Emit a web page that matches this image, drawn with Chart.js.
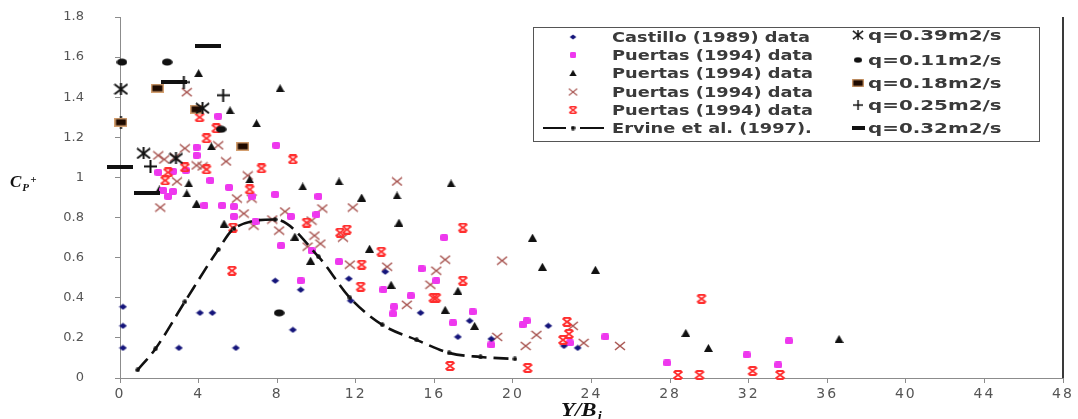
<!DOCTYPE html>
<html><head><meta charset="utf-8">
<script src="https://cdn.jsdelivr.net/npm/chart.js@4.4.1/dist/chart.umd.min.js"></script>
<style>html,body{margin:0;padding:0;background:#fff;} #wrap{width:1078px;height:419px;position:relative;}</style>
</head><body><div id="wrap"><canvas id="c"></canvas></div>
<script>
// ---------- data ----------
const xTickValues = [0,4,8,12,16,20,24,28,32,36,40,44,48];
const yTickValues = [0,0.2,0.4,0.6,0.8,1.0,1.2,1.4,1.6,1.8];

const seriesLabels = ['Castillo (1989) data','Puertas (1994) data','Puertas (1994) data','Puertas (1994) data','Puertas (1994) data','Ervine et al. (1997).',
  'q=0.39m2/s','q=0.11m2/s','q=0.18m2/s','q=0.25m2/s','q=0.32m2/s'];

const castilloX = [0.15,0.15,0.15,3.0,4.07,4.7,5.9,7.9,8.8,9.2,11.65,11.75,13.5,15.3,17.2,17.8,18.9,21.8,22.6,23.3];
const castilloY = [0.355,0.26,0.15,0.15,0.325,0.325,0.15,0.485,0.24,0.44,0.495,0.385,0.53,0.325,0.205,0.285,0.195,0.26,0.16,0.15];

const magentaX = [5.0,3.9,3.9,7.95,1.95,2.7,3.35,4.6,5.55,7.9,2.2,2.7,2.45,4.3,5.2,5.8,5.8,6.9,8.2,6.7,8.7,10.1,10.0,16.5,9.75,9.2,11.15,15.35,16.1,13.4,14.8,13.95,13.9,16.95,17.95,18.9,20.7,20.5,22.9,24.7,27.85,31.9,34.05,33.5];
const magentaY = [1.305,1.15,1.11,1.16,1.025,1.03,1.035,0.985,0.95,0.915,0.935,0.93,0.905,0.86,0.86,0.855,0.805,0.78,0.66,0.905,0.805,0.905,0.815,0.70,0.635,0.485,0.58,0.545,0.485,0.44,0.41,0.355,0.32,0.275,0.33,0.165,0.285,0.265,0.175,0.205,0.075,0.115,0.185,0.065];

const triangleX = [4.0,8.15,5.6,6.95,4.65,3.5,2.0,3.4,3.9,5.3,6.6,9.3,11.15,12.3,14.1,16.85,14.2,8.9,12.7,9.7,13.8,17.2,16.55,18.05,21.0,21.5,24.2,28.8,29.95,36.6];
const triangleY = [1.52,1.445,1.335,1.27,1.155,0.97,0.94,0.92,0.87,0.77,0.99,0.955,0.98,0.90,0.91,0.97,0.775,0.705,0.645,0.585,0.465,0.435,0.34,0.26,0.70,0.555,0.54,0.225,0.15,0.195];

const brownX = [3.4,3.3,5.0,1.95,2.25,2.8,5.4,3.9,4.2,2.9,6.5,5.95,6.7,2.05,6.3,6.8,7.75,8.1,8.4,14.1,10.3,11.85,9.75,9.9,10.2,9.55,11.35,16.55,11.7,13.6,16.1,15.8,14.6,19.2,19.45,21.2,20.65,23.05,23.6,25.45];
const brownY = [1.425,1.145,1.16,1.11,1.09,1.10,1.08,1.06,1.055,0.98,1.01,0.895,0.895,0.85,0.82,0.76,0.79,0.735,0.83,0.98,0.845,0.85,0.785,0.71,0.67,0.655,0.70,0.59,0.565,0.555,0.535,0.465,0.365,0.205,0.585,0.215,0.16,0.26,0.175,0.16];

const redX = [4.05,4.9,4.4,7.2,4.4,3.3,2.45,2.3,6.6,8.8,5.75,5.7,9.5,11.2,11.55,17.45,13.3,12.3,12.25,17.45,15.95,16.1,16.8,22.75,22.85,22.55,20.75,29.6,28.4,29.5,32.2,33.6];
const redY = [1.30,1.245,1.195,1.045,1.04,1.05,1.025,0.985,0.94,1.09,0.75,0.535,0.775,0.725,0.74,0.75,0.63,0.565,0.455,0.485,0.40,0.40,0.06,0.28,0.22,0.19,0.05,0.395,0.015,0.015,0.035,0.015];

const ervineX = [0.9,1.8,3.3,5.0,5.8,7.9,10.1,11.7,13.35,15.1,16.75,18.35,20.1];
const ervineY = [0.04,0.145,0.38,0.64,0.745,0.79,0.605,0.40,0.265,0.19,0.125,0.105,0.095];

const q039X = [0.05,4.2,1.2,2.85];
const q039Y = [1.44,1.345,1.12,1.095];
const q011X = [0.1,2.4,5.15,8.1];
const q011Y = [1.575,1.575,1.24,0.325];
const q018X = [0.05,1.9,3.9,6.25];
const q018Y = [1.275,1.445,1.34,1.155];
const q025X = [0.05,3.25,5.25,1.55];
const q025Y = [1.275,1.475,1.41,1.055];
const q032X = [4.5,0,1.35,2.75];
const q032Y = [1.655,1.05,0.92,1.475];

// ---------- markers ----------
function mk(w,h,fn){const c=document.createElement('canvas');c.width=w;c.height=h;const g=c.getContext('2d');fn(g,w,h);return c;}
const mDiamond = mk(9,7,g=>{g.fillStyle='#14147a';g.beginPath();g.moveTo(0.5,3.5);g.lineTo(4.5,0.5);g.lineTo(8.5,3.5);g.lineTo(4.5,6.5);g.closePath();g.fill();});
const mMagenta = mk(8,7,g=>{g.fillStyle='#ee38ee';g.beginPath();g.roundRect(0,0,8,7,2);g.fill();});
const mTri = mk(9,8,g=>{g.fillStyle='#111';g.beginPath();g.moveTo(4.5,0);g.lineTo(9,8);g.lineTo(0,8);g.closePath();g.fill();});
const mBrownX = mk(12,10,g=>{g.strokeStyle='#a85450';g.lineWidth=1.6;g.beginPath();g.moveTo(1,1);g.lineTo(11,9);g.moveTo(11,1);g.lineTo(1,9);g.stroke();});
const mRedAst = mk(12,10,g=>{g.strokeStyle='#ff2e2e';g.lineWidth=1.8;g.beginPath();g.moveTo(1.5,1.5);g.lineTo(10.5,8.5);g.moveTo(10.5,1.5);g.lineTo(1.5,8.5);g.moveTo(2.5,1);g.lineTo(9.5,1);g.moveTo(2.5,9);g.lineTo(9.5,9);g.stroke();});
const mErvine = mk(5,5,g=>{g.fillStyle='#111';g.beginPath();g.arc(2.5,2.5,2.2,0,Math.PI*2);g.fill();});
const mAst = mk(15,12,g=>{g.strokeStyle='#111';g.lineWidth=2;g.beginPath();g.moveTo(1,1);g.lineTo(14,11);g.moveTo(14,1);g.lineTo(1,11);g.moveTo(7.5,0);g.lineTo(7.5,12);g.stroke();});
const mEllipse = mk(11,8,g=>{g.fillStyle='#111';g.beginPath();g.ellipse(5.5,4,5.3,3.6,0,0,Math.PI*2);g.fill();});
const mSquare = mk(13,9,g=>{g.fillStyle='#d4a070';g.fillRect(0,0,13,9);g.fillStyle='#1e0a00';g.fillRect(1.5,1.5,10,6);});
const mPlus = mk(13,13,g=>{g.strokeStyle='#111';g.lineWidth=2;g.beginPath();g.moveTo(0,6.5);g.lineTo(13,6.5);g.moveTo(6.5,0);g.lineTo(6.5,13);g.stroke();});
const mDash = mk(26,4,g=>{g.fillStyle='#111';g.fillRect(0,0,26,4);});

const pts = (xs,ys)=>xs.map((x,i)=>({x,y:ys[i]}));
function ds(label,xs,ys,style,order){return {label,data:pts(xs,ys),pointStyle:style,pointRadius:5,pointHoverRadius:5,order,clip:false,showLine:false};}

const datasets = [
  ds(seriesLabels[0],castilloX,castilloY,mDiamond,3),
  ds(seriesLabels[1],magentaX,magentaY,mMagenta,3),
  ds(seriesLabels[2],triangleX,triangleY,mTri,3),
  ds(seriesLabels[3],brownX,brownY,mBrownX,3),
  ds(seriesLabels[4],redX,redY,mRedAst,2),
  {label:seriesLabels[5],data:pts(ervineX,ervineY),showLine:true,borderColor:'#111',borderWidth:2.6,borderDash:[15,7],
   pointStyle:mErvine,pointRadius:2.5,cubicInterpolationMode:'monotone',order:1,clip:false},
  ds(seriesLabels[6],q039X,q039Y,mAst,0),
  ds(seriesLabels[7],q011X,q011Y,mEllipse,0),
  ds(seriesLabels[8],q018X,q018Y,mSquare,0),
  ds(seriesLabels[9],q025X,q025Y,mPlus,0),
  ds(seriesLabels[10],q032X,q032Y,mDash,0)
];

// ---------- custom scale with wide x labels ----------
class WideLinear extends Chart.LinearScale {
  drawLabels(area){const ctx=this.ctx;ctx.save();ctx.letterSpacing='2px';super.drawLabels(area);ctx.restore();}
}
WideLinear.id='wideLinear';
WideLinear.defaults=Chart.LinearScale.defaults;
Chart.register(WideLinear);

// ---------- plugins ----------
const decor = {
  id:'decor',
  afterDraw(chart){
    const ctx=chart.ctx, a=chart.chartArea;
    ctx.save();
    // right border
    ctx.strokeStyle='#3a3a3a';ctx.lineWidth=2;
    ctx.beginPath();ctx.moveTo(a.right,a.top);ctx.lineTo(a.right,a.bottom);ctx.stroke();
    // y title  C_P^+
    ctx.fillStyle='#111';ctx.textBaseline='alphabetic';ctx.textAlign='left';
    ctx.font='bold italic 17px "Liberation Serif"';
    ctx.fillText('C',10,187);
    let w=ctx.measureText('C').width;
    ctx.font='bold italic 11px "Liberation Serif"';
    ctx.fillText('P',10+w+1,191);
    ctx.fillText('+',10+w+9,183);
    // x title Y/B_i
    ctx.save();ctx.translate(561,416);ctx.scale(1.2,1);
    ctx.font='bold italic 19px "Liberation Serif"';
    ctx.fillText('Y/B',0,0);
    let w2=ctx.measureText('Y/B').width;
    ctx.font='bold italic 12px "Liberation Serif"';
    ctx.fillText('i',w2+1,4);
    ctx.restore();
    // legend box
    ctx.fillStyle='#fff';ctx.fillRect(533.5,27.5,506,114);
    ctx.strokeStyle='#555';ctx.lineWidth=1;ctx.strokeRect(533.5,27.5,506,114);
    const ds=chart.data.datasets;
    const drawTxt=(t,x,y,s)=>{ctx.save();ctx.translate(x,y);ctx.scale(s,1);ctx.font='bold 14px "DejaVu Sans"';ctx.fillStyle='#3a3a3a';ctx.textBaseline='middle';ctx.textAlign='left';ctx.fillText(t,0,0);ctx.restore();};
    const img=(m,cx,cy,sx,sy)=>{const W=m.width*sx,H=m.height*sy;ctx.drawImage(m,cx-W/2,cy-H/2,W,H);};
    const rows1=[37,55,73,92,110,128];
    for(let i=0;i<6;i++){
      const y=rows1[i];
      if(i===5){
        ctx.strokeStyle='#111';ctx.lineWidth=2;ctx.beginPath();ctx.moveTo(543,y);ctx.lineTo(566,y);ctx.moveTo(580,y);ctx.lineTo(604,y);ctx.stroke();
        img(ds[i].pointStyle,573,y,1,1);
      } else img(ds[i].pointStyle,573,y,0.85,0.85);
      drawTxt(ds[i].label,612,y+1,1.27);
    }
    const rows2=[35,60,83,105,128];
    const sc=[[0.75,0.8],[0.8,0.8],[0.95,0.95],[0.8,0.8],[0.5,1]];
    for(let j=0;j<5;j++){
      const i=6+j,y=rows2[j];
      img(ds[i].pointStyle,858,y,sc[j][0],sc[j][1]);
      drawTxt(ds[i].label,868,y+1,1.42);
    }
    ctx.restore();
  }
};

new Chart(document.getElementById('c'),{
  type:'scatter',
  data:{datasets},
  options:{
    responsive:true,maintainAspectRatio:false,animation:false,devicePixelRatio:1,
    layout:{padding:{left:0,top:17,right:15,bottom:0}},
    plugins:{legend:{display:false},tooltip:{enabled:false}},
    scales:{
      x:{type:'wideLinear',min:0,max:48,
        afterBuildTicks:s=>{s.ticks=xTickValues.map(v=>({value:v}));},
        afterFit:s=>{s.height=41;},
        grid:{display:true,drawOnChartArea:false,drawTicks:true,tickLength:5,color:'#8c8c8c'},
        border:{display:true,color:'#8c8c8c',width:1},
        ticks:{padding:3,color:'#555',font:{family:'"DejaVu Sans"',size:14},maxRotation:0,autoSkip:false,callback:v=>String(v)}},
      y:{type:'linear',min:0,max:1.8,
        afterBuildTicks:s=>{s.ticks=yTickValues.map(v=>({value:v}));},
        afterFit:s=>{s.width=120;s.paddingTop=0;s.paddingBottom=0;},
        grid:{display:true,drawOnChartArea:false,drawTicks:true,tickLength:5,color:'#8c8c8c'},
        border:{display:true,color:'#8c8c8c',width:1},
        ticks:{padding:31,color:'#555',font:{family:'"DejaVu Sans"',size:13},autoSkip:false,callback:v=>String(Math.round(v*10)/10)}}
    }
  },
  plugins:[decor]
});
</script></body></html>
